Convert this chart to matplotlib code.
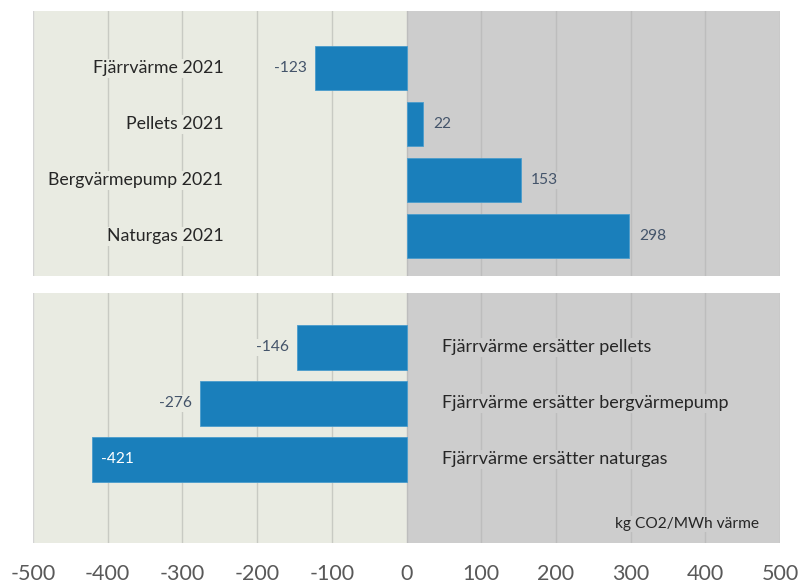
import matplotlib
matplotlib.use("Agg")
import matplotlib.pyplot as plt

plt.rcParams["font.family"] = ["Lato", "DejaVu Sans"]

# data
top_labels = ["Fjärrvärme 2021", "Pellets 2021", "Bergvärmepump 2021", "Naturgas 2021"]
top_values = [-123, 22, 153, 298]
bot_labels = ["Fjärrvärme ersätter pellets", "Fjärrvärme ersätter bergvärmepump",
              "Fjärrvärme ersätter naturgas"]
bot_values = [-146, -276, -421]
xticks = list(range(-500, 501, 100))
unit_text = "kg CO2/MWh värme"

BAR = "#1a7fbb"
LEFT_BG = "#e9ebe2"
RIGHT_BG = "#cdcdcd"
GRID_L = "#c8cac3"
GRID_R = "#bdbdbd"
LBL = "#44546a"
CAT = "#262626"

fig = plt.figure(figsize=(8.0, 5.85), dpi=100)
W, H = 800, 585
x0, x1 = 33, 780
ax_top = fig.add_axes([x0 / W, 1 - 276 / H, (x1 - x0) / W, 265 / H])
ax_bot = fig.add_axes([x0 / W, 1 - 543 / H, (x1 - x0) / W, 250 / H])


def panel(ax):
    ax.axvspan(-500, 0, color=LEFT_BG, zorder=0, lw=0)
    ax.axvspan(0, 500, color=RIGHT_BG, zorder=0, lw=0)
    for x in xticks:
        c = GRID_L if x < 0 else GRID_R
        if x == -500:
            c = "#d4d4d4"
        ax.axvline(x, color=c, lw=1.0, zorder=1)
    ax.set_xlim(-500, 500)
    for s in ax.spines.values():
        s.set_visible(False)
    ax.set_yticks([])


panel(ax_top)
panel(ax_bot)

# top panel
ypos = list(range(len(top_values)))
ax_top.barh(ypos, top_values, height=0.79, color=BAR, edgecolor="#4a9ccc",
            lw=0.6, zorder=3)
ax_top.set_ylim(3.71, -1.02)
for y, v, lab in zip(ypos, top_values, top_labels):
    ax_top.text(-245, y, lab, ha="right", va="center", fontsize=12.8, color=CAT,
                zorder=4, bbox=dict(facecolor=LEFT_BG, edgecolor="none", pad=1))
    bg = LEFT_BG if v < 0 else RIGHT_BG
    off = -11 if v < 0 else 14
    ax_top.text(v + off, y, str(v), ha="right" if v < 0 else "left", va="center",
                fontsize=11.2, color=LBL, zorder=4,
                bbox=dict(facecolor=bg, edgecolor="none", pad=1))
ax_top.set_xticks([])

# bottom panel
ypos = list(range(len(bot_values)))
ax_bot.barh(ypos, bot_values, height=0.79, color=BAR, edgecolor="#4a9ccc",
            lw=0.6, zorder=3)
ax_bot.set_ylim(3.49, -0.97)
for y, v, lab in zip(ypos, bot_values, bot_labels):
    ax_bot.text(47, y, lab, ha="left", va="center", fontsize=13, color=CAT,
                zorder=4, bbox=dict(facecolor=RIGHT_BG, edgecolor="none", pad=1))
    if v < -400:
        ax_bot.text(v + 12, y, str(v), ha="left", va="center", fontsize=11.2,
                    color="white", zorder=4)
    else:
        ax_bot.text(v - 11, y, str(v), ha="right", va="center", fontsize=11.2,
                    color=LBL, zorder=4,
                    bbox=dict(facecolor=LEFT_BG, edgecolor="none", pad=1))
ax_bot.text(472, 3.15, unit_text, ha="right", va="center", fontsize=11.2,
            color=CAT, zorder=4,
            bbox=dict(facecolor=RIGHT_BG, edgecolor="none", pad=1))

ax_bot.set_xticks(xticks)
ax_bot.set_xticklabels([str(x) for x in xticks])
ax_bot.tick_params(axis="x", length=0, pad=15, labelsize=15.5, labelcolor="#595959")

fig.savefig("out.png", dpi=100, facecolor="white")
